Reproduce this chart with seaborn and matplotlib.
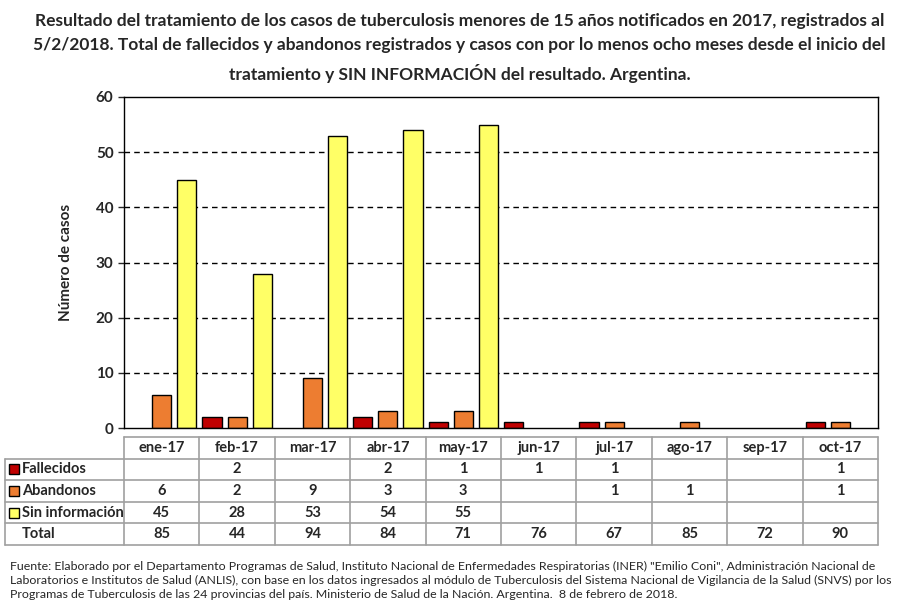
"""
Resultado del tratamiento de casos de tuberculosis < 15 años, 2017 (Argentina).
Barras agrupadas por mes con tabla de datos debajo.
"""

import matplotlib
matplotlib.use("Agg")
import matplotlib.pyplot as plt
import matplotlib.patches as mpatches
import numpy as np
import pandas as pd
import seaborn as sns

# Datos
MESES = ["ene-17", "feb-17", "mar-17", "abr-17", "may-17",
         "jun-17", "jul-17", "ago-17", "sep-17", "oct-17"]
FALLECIDOS = [np.nan, 2, np.nan, 2, 1, 1, 1, np.nan, np.nan, 1]
ABANDONOS = [6, 2, 9, 3, 3, np.nan, 1, 1, np.nan, 1]
SIN_INFO = [45, 28, 53, 54, 55, np.nan, np.nan, np.nan, np.nan, np.nan]
TOTAL = [85, 44, 94, 84, 71, 76, 67, 85, 72, 90]

SERIES = ["Fallecidos", "Abandonos", "Sin información"]
COLORES = ["#C00000", "#ED7D31", "#FFFF66"]

TITULO = ("Resultado del tratamiento de los casos de tuberculosis menores de 15 años notificados en 2017, registrados al\n"
          "5/2/2018. Total de fallecidos y abandonos registrados y casos con por lo menos ocho meses desde el inicio del\n"
          "tratamiento y SIN INFORMACIÓN del resultado. Argentina.")
FUENTE = ("Fuente: Elaborado por el Departamento Programas de Salud, Instituto Nacional de Enfermedades Respiratorias (INER) \"Emilio Coni\", Administración Nacional de\n"
          "Laboratorios e Institutos de Salud (ANLIS), con base en los datos ingresados al módulo de Tuberculosis del Sistema Nacional de Vigilancia de la Salud (SNVS) por los\n"
          "Programas de Tuberculosis de las 24 provincias del país. Ministerio de Salud de la Nación. Argentina.  8 de febrero de 2018.")

sns.set_style("white")
plt.rcParams["font.family"] = ["Lato", "DejaVu Sans"]

df = pd.DataFrame({
    "mes": MESES * 3,
    "serie": [s for s in SERIES for _ in MESES],
    "valor": FALLECIDOS + ABANDONOS + SIN_INFO,
}).dropna()

W, H = 905, 605
fig = plt.figure(figsize=(W / 100, H / 100), dpi=100)


def px(x0, y0, x1, y1):
    """Caja en pixeles -> coordenadas de figura."""
    return [x0 / W, 1 - y1 / H, (x1 - x0) / W, (y1 - y0) / H]


ax = fig.add_axes(px(124, 97, 878, 428))
sns.barplot(data=df, x="mes", y="valor", hue="serie", order=MESES,
            hue_order=SERIES, palette=COLORES, saturation=1, width=1.0, gap=0.24,
            edgecolor="black", linewidth=1, legend=False, ax=ax)
ax.set_xlim(-0.5, len(MESES) - 0.5)
ax.set_ylim(0, 60)
ax.set_yticks(range(0, 61, 10))
for yv in range(10, 60, 10):
    ax.axhline(yv, color="black", lw=1, ls=(0, (4, 3)), zorder=0)
ax.set_xticks([])
ax.set_xlabel("")
ax.set_ylabel("Número de casos", fontsize=11, fontweight="bold", labelpad=16)
ax.tick_params(axis="y", labelsize=11, length=4, width=1, left=True)
for lbl in ax.get_yticklabels():
    lbl.set_fontweight("bold")
for sp in ax.spines.values():
    sp.set_color("black")
    sp.set_linewidth(1)

# Tabla de datos debajo del gráfico
tab = fig.add_axes(px(124, 437, 878, 545))
tab.set_xlim(-0.5, len(MESES) - 0.5)
tab.set_ylim(5, 0)
tab.axis("off")
x_izq = -0.5 - 119 / 75.4
gris = "#A0A0A0"
tab.plot([-0.5, len(MESES) - 0.5], [0, 0], color=gris, lw=1.2, clip_on=False)
for r in range(1, 6):
    tab.plot([x_izq, len(MESES) - 0.5], [r, r], color=gris, lw=1.2, clip_on=False)
for c in range(len(MESES) + 1):
    tab.plot([c - 0.5, c - 0.5], [0, 5], color=gris, lw=1.2, clip_on=False)
tab.plot([x_izq, x_izq], [1, 5], color=gris, lw=1.2, clip_on=False)

for i, m in enumerate(MESES):
    tab.text(i, 0.5, m, ha="center", va="center", fontsize=10.5, fontweight="bold")

filas = [FALLECIDOS, ABANDONOS, SIN_INFO, TOTAL]
nombres = SERIES + ["Total"]
for r, (nombre, vals) in enumerate(zip(nombres, filas), start=1):
    x_txt = x_izq + 17 / 75.4
    if r <= 3:
        tab.add_patch(mpatches.Rectangle((x_izq + 4 / 75.4, r + 0.27), 10 / 75.4, 0.46,
                                         facecolor=COLORES[r - 1], edgecolor="black",
                                         lw=1, clip_on=False))
    tab.text(x_txt, r + 0.5, nombre, ha="left", va="center", fontsize=10.5,
             fontweight="bold", clip_on=False)
    for i, v in enumerate(vals):
        if not np.isnan(v):
            tab.text(i, r + 0.5, f"{int(v)}", ha="center", va="center",
                     fontsize=10.5, fontweight="bold")

fig.text(0.508, 1 - 13 / H, TITULO, ha="center", va="top", fontsize=12.5,
         fontweight="bold", linespacing=1.65)
fig.text(10 / W, 1 - 561 / H, FUENTE, ha="left", va="top", fontsize=8.9,
         linespacing=1.3)

fig.savefig("out.png", dpi=100)
